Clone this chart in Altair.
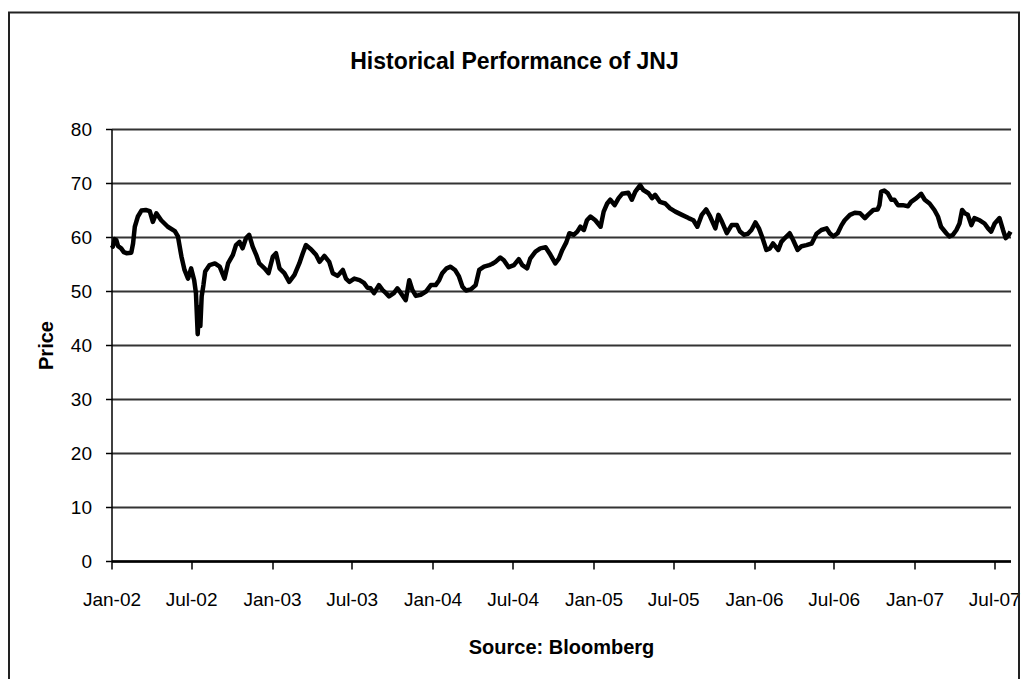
import altair as alt
import pandas as pd

TITLE = "Historical Performance of JNJ"
X_TITLE = "Source: Bloomberg"
Y_TITLE = "Price"

dates = [
    "2002-01-02", "2002-01-04", "2002-01-08", "2002-01-12", "2002-01-16", "2002-01-23", "2002-01-29",
    "2002-02-04", "2002-02-15", "2002-02-19", "2002-02-23", "2002-03-02", "2002-03-10", "2002-03-20",
    "2002-03-29", "2002-04-05", "2002-04-13", "2002-04-24", "2002-05-09", "2002-05-25", "2002-06-01",
    "2002-06-09", "2002-06-16", "2002-06-24", "2002-07-01", "2002-07-08", "2002-07-12", "2002-07-16",
    "2002-07-19", "2002-07-22", "2002-07-25", "2002-07-29", "2002-08-02", "2002-08-12", "2002-08-24",
    "2002-09-04", "2002-09-15", "2002-09-23", "2002-10-04", "2002-10-11", "2002-10-19", "2002-10-26",
    "2002-11-03", "2002-11-10", "2002-11-18", "2002-11-26", "2002-12-03", "2002-12-15", "2002-12-24",
    "2003-01-03", "2003-01-10", "2003-01-18", "2003-01-29", "2003-02-09", "2003-02-21", "2003-03-04",
    "2003-03-12", "2003-03-19", "2003-03-31", "2003-04-11", "2003-04-19", "2003-04-30", "2003-05-11",
    "2003-05-19", "2003-05-30", "2003-06-11", "2003-06-18", "2003-06-26", "2003-07-07", "2003-07-19",
    "2003-07-29", "2003-08-06", "2003-08-13", "2003-08-21", "2003-09-01", "2003-09-09", "2003-09-17",
    "2003-09-24", "2003-10-05", "2003-10-13", "2003-10-21", "2003-11-01", "2003-11-09", "2003-11-16",
    "2003-11-24", "2003-12-05", "2003-12-17", "2003-12-28",
    "2004-01-08", "2004-01-16", "2004-01-23", "2004-02-02", "2004-02-11", "2004-02-21", "2004-03-01",
    "2004-03-09", "2004-03-17", "2004-03-28", "2004-04-08", "2004-04-16", "2004-04-27", "2004-05-09",
    "2004-05-15", "2004-05-23", "2004-06-03", "2004-06-11", "2004-06-22", "2004-07-04", "2004-07-15",
    "2004-07-23", "2004-08-03", "2004-08-10", "2004-08-22", "2004-09-02", "2004-09-14", "2004-09-25",
    "2004-10-06", "2004-10-14", "2004-10-22", "2004-10-31", "2004-11-07", "2004-11-17", "2004-11-25",
    "2004-12-02", "2004-12-10", "2004-12-17", "2004-12-25",
    "2005-01-05", "2005-01-17", "2005-01-24", "2005-02-01", "2005-02-08", "2005-02-18", "2005-02-27",
    "2005-03-07", "2005-03-21", "2005-03-29", "2005-04-06", "2005-04-17", "2005-04-24", "2005-05-06",
    "2005-05-14", "2005-05-21", "2005-06-01", "2005-06-13", "2005-06-24", "2005-07-06", "2005-07-21",
    "2005-08-05", "2005-08-16", "2005-08-25", "2005-09-04", "2005-09-14", "2005-09-23", "2005-10-05",
    "2005-10-12", "2005-10-20", "2005-10-31", "2005-11-11", "2005-11-23", "2005-11-30", "2005-12-09",
    "2005-12-18", "2005-12-26",
    "2006-01-04", "2006-01-12", "2006-01-19", "2006-01-29", "2006-02-06", "2006-02-13", "2006-02-25",
    "2006-03-04", "2006-03-12", "2006-03-23", "2006-03-31", "2006-04-10", "2006-04-19", "2006-04-30",
    "2006-05-12", "2006-05-23", "2006-06-03", "2006-06-15", "2006-06-22", "2006-06-30", "2006-07-10",
    "2006-07-19", "2006-07-26", "2006-08-07", "2006-08-18", "2006-08-30", "2006-09-10", "2006-09-17",
    "2006-09-29", "2006-10-09", "2006-10-13", "2006-10-17", "2006-10-24", "2006-11-01", "2006-11-09",
    "2006-11-16", "2006-11-24", "2006-12-05", "2006-12-17", "2006-12-24",
    "2007-01-05", "2007-01-16", "2007-01-24", "2007-02-04", "2007-02-15", "2007-02-23", "2007-03-02",
    "2007-03-14", "2007-03-21", "2007-03-29", "2007-04-06", "2007-04-13", "2007-04-19", "2007-04-25",
    "2007-05-02", "2007-05-10", "2007-05-17", "2007-05-29", "2007-06-09", "2007-06-17", "2007-06-24",
    "2007-07-02", "2007-07-13", "2007-07-21", "2007-07-27", "2007-08-03", "2007-08-07",
]

prices = [
    58.5, 58.2, 59.6, 59.4, 58.3, 57.9, 57.2,
    57.0, 57.1, 58.8, 61.9, 63.8, 64.9, 65.0,
    64.8, 62.8, 64.4, 63.1, 61.9, 61.1, 60.1,
    56.4, 53.9, 52.3, 54.2, 52.0, 49.6, 42.0,
    47.0, 43.5, 49.0, 51.1, 53.6, 54.8, 55.1,
    54.5, 52.3, 55.1, 56.7, 58.5, 59.1, 57.9,
    59.8, 60.4, 58.2, 56.7, 55.1, 54.2, 53.3,
    56.4, 57.0, 54.2, 53.3, 51.7, 53.0, 55.1,
    57.0, 58.5, 57.7, 56.7, 55.4, 56.5, 55.4,
    53.3, 52.8, 53.9, 52.3, 51.7, 52.3, 52.0,
    51.5, 50.6, 50.5, 49.6, 51.1, 50.2, 49.6,
    49.0, 49.6, 50.5, 49.6, 48.3, 52.0, 50.2,
    49.1, 49.3, 49.9, 51.1,
    51.1, 52.0, 53.3, 54.2, 54.5, 53.9, 52.7,
    50.8, 50.1, 50.3, 51.1, 53.9, 54.5, 54.8,
    55.0, 55.4, 56.2, 55.7, 54.4, 54.8, 55.9,
    54.8, 54.2, 56.0, 57.3, 57.9, 58.1, 56.7,
    55.1, 56.0, 57.6, 59.0, 60.7, 60.4, 61.0,
    61.9, 61.3, 63.1, 63.8,
    63.1, 61.9, 64.7, 66.2, 66.9, 65.9, 67.2,
    68.0, 68.2, 66.9, 68.4, 69.6, 68.7, 68.1,
    67.2, 67.8, 66.5, 66.2, 65.3, 64.7, 64.1,
    63.5, 63.1, 61.9, 64.1, 65.1, 63.8, 61.6,
    64.1, 62.8, 60.7, 62.2, 62.2, 61.0, 60.4,
    60.6, 61.3,
    62.7, 61.6, 60.1, 57.6, 57.9, 58.8, 57.6,
    59.1, 59.8, 60.7, 59.4, 57.6, 58.3, 58.5,
    58.8, 60.6, 61.3, 61.6, 60.7, 60.1, 60.7,
    62.2, 63.1, 64.1, 64.5, 64.4, 63.5, 64.1,
    65.0, 65.1, 65.9, 68.4, 68.6, 68.1, 66.9,
    66.9, 65.9, 65.9, 65.7, 66.5,
    67.2, 68.0, 66.9, 66.2, 65.0, 63.8, 61.9,
    60.7, 60.1, 60.4, 61.3, 62.5, 65.0, 64.4,
    64.1, 62.2, 63.5, 63.1, 62.5, 61.6, 61.0,
    62.5, 63.5, 61.3, 59.8, 60.4, 61.0,
]

y_ticks = [0, 10, 20, 30, 40, 50, 60, 70, 80]
x_tick_years = [2002, 2002, 2003, 2003, 2004, 2004, 2005, 2005, 2006, 2006, 2007, 2007]
x_tick_months = [1, 7, 1, 7, 1, 7, 1, 7, 1, 7, 1, 7]

FONT = "Liberation Sans"

df = pd.DataFrame({"date": [d + "T00:00:00" for d in dates], "price": prices})

x_values = [alt.DateTime(year=y, month=m, date=1) for y, m in zip(x_tick_years, x_tick_months)]

line = alt.Chart(df).mark_line(color="black", strokeWidth=4.5, strokeJoin="round").encode(
    x=alt.X(
        "date:T",
        scale=alt.Scale(domain=[alt.DateTime(year=2002, month=1, date=1),
                                alt.DateTime(year=2007, month=8, date=7)], nice=False),
        axis=alt.Axis(
            values=x_values, format="%b-%y", grid=False,
            domain=True, domainColor="black", domainWidth=2.5,
            ticks=True, tickColor="black", tickWidth=1.5, tickSize=8,
            labelFont=FONT, labelFontSize=19, labelColor="black", labelPadding=21,
            labelFlush=False, labelOverlap=False,
            title=X_TITLE, titleFont=FONT, titleFontSize=20, titleFontWeight="bold",
            titleColor="black", titlePadding=28,
        ),
    ),
    y=alt.Y(
        "price:Q",
        scale=alt.Scale(domain=[0, 80], nice=False, zero=True),
        axis=alt.Axis(
            values=y_ticks, grid=True, gridColor="#333333", gridWidth=2,
            domain=True, domainColor="black", domainWidth=1.5,
            ticks=True, tickColor="black", tickWidth=1.5, tickSize=6,
            labelFont=FONT, labelFontSize=19, labelColor="black", labelPadding=14,
            title=Y_TITLE, titleFont=FONT, titleFontSize=20, titleFontWeight="bold",
            titleColor="black", titlePadding=14,
        ),
    ),
)

frame = alt.Chart(pd.DataFrame({"k": [0]})).mark_rect(
    fillOpacity=0, stroke="#222222", strokeWidth=2
).encode(
    x=alt.value(-102.5), x2=alt.value(907.5), y=alt.value(-116.5), y2=alt.value(640)
)

title = alt.Chart(pd.DataFrame({"t": [TITLE]})).mark_text(
    font=FONT, fontSize=23, fontWeight="bold", align="center", baseline="middle", color="black"
).encode(text="t:N", x=alt.value(403), y=alt.value(-67))

chart = alt.layer(frame, line, title).properties(
    width=899,
    height=432,
    padding={"left": 103.5, "top": 121, "right": 10.5, "bottom": 118},
    autosize=alt.AutoSizeParams(type="none"),
).configure_view(stroke="transparent")

chart.save("out.html", embed_options={"renderer": "svg", "actions": False})
